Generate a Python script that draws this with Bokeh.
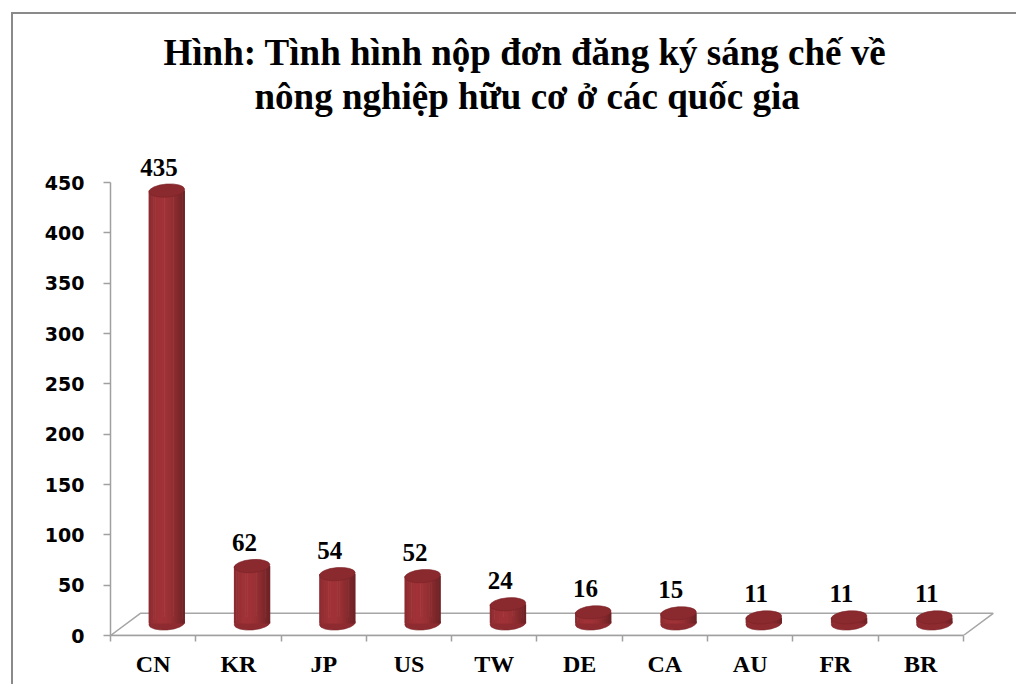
import numpy as np
from bokeh.plotting import figure
from bokeh.models import ColumnDataSource, FixedTicker, Range1d, Title
from bokeh.core.properties import value
from bokeh.embed import file_html
from bokeh.resources import INLINE

# ---- data ----
countries = ["CN", "KR", "JP", "US", "TW", "DE", "CA", "AU", "FR", "BR"]
counts = [435, 62, 54, 52, 24, 16, 15, 11, 11, 11]
y_ticks = [0, 50, 100, 150, 200, 250, 300, 350, 400, 450]
title_lines = ["Hình: Tình hình nộp đơn đăng ký sáng chế về",
               "nông nghiệp hữu cơ ở các quốc gia"]

# ---- geometry / style constants ----
n = len(countries)
DEPTH_X = 0.35      # floor depth in category units
DEPTH_Y = 22.0      # floor depth in value units
BAR_SHIFT = 0.16    # bars stand at mid depth
BAR_W = 0.42
BASE = 12.0
TOP_EXTRA = 7.0
ELL_H = 13.0
ELL_ANGLE = 0.08
BASE_RGB = np.array([158, 50, 54])

p = figure(width=1005, height=672, output_backend="svg", toolbar_location=None,
           x_range=Range1d(0, 10.4), y_range=Range1d(0, 513.6),
           min_border_left=97, min_border_right=21, min_border_top=104,
           min_border_bottom=51)
p.styles = {"margin-left": "11px", "margin-top": "12px",
            "border-left": "2px solid #8a8a8a", "border-top": "2px solid #8a8a8a"}
p.background_fill_color = "white"
p.border_fill_color = "white"
p.outline_line_color = None
p.grid.visible = False

# title: two centred lines (second line nearest the plot)
def style_title(t, off, standoff):
    t.align = "left"
    t.offset = off
    t.standoff = standoff
    t.text_font = "Liberation Serif"
    t.text_font_size = "37px"
    t.text_font_style = "bold"
    t.text_color = "black"

p.title.text = title_lines[0]
style_title(p.title, 53, 0)
t2 = Title(text=title_lines[1])
style_title(t2, 144, 3)
p.add_layout(t2, "above")

# floor (drawn first so that bars sit on it)
fx = [0, n, n + DEPTH_X, DEPTH_X]
fy = [0, 0, DEPTH_Y, DEPTH_Y]
p.patch(fx, fy, fill_color="white", line_color="#a6a6a6", line_width=1.5)

# cylinders
xs = np.arange(n) + 0.5 + BAR_SHIFT
vals = np.array(counts, dtype=float)
tops = vals + TOP_EXTRA

# bottom ellipse
p.ellipse(x=xs, y=[BASE] * n, width=BAR_W, height=ELL_H, angle=ELL_ANGLE,
          width_units="data", height_units="data",
          fill_color="#8e2b30", line_color="#7a2428", line_width=0.6)

# body as shaded strips
NS = 16
sx, sb, st, sc = [], [], [], []
for k in range(NS):
    t = -1 + (2 * k + 1) / NS
    inten = 0.78 + 0.24 * np.cos((t + 0.25) * np.pi / 2)
    rgb = np.clip(BASE_RGB * inten, 0, 255).astype(int)
    col = "#%02x%02x%02x" % tuple(rgb)
    for i in range(n):
        sx.append(xs[i] + t * BAR_W / 2)
        sb.append(BASE)
        st.append(tops[i])
        sc.append(col)
strips = ColumnDataSource(dict(x=sx, bottom=sb, top=st, color=sc))
p.vbar(x="x", bottom="bottom", top="top", width=BAR_W / NS * 1.25,
       fill_color="color", line_color=None, source=strips)

# top ellipse
p.ellipse(x=xs, y=tops, width=BAR_W, height=ELL_H, angle=ELL_ANGLE,
          width_units="data", height_units="data",
          fill_color="#8a292e", line_color="#7a2428", line_width=0.6)

# data labels
lab = ColumnDataSource(dict(x=np.arange(n) + 0.5 + 0.07, y=tops,
                            t=[str(v) for v in counts]))
p.text(x="x", y="y", text="t", source=lab, text_align="center",
       text_baseline="bottom", y_offset=-15,
       text_font=value("Liberation Serif"), text_font_style="bold",
       text_font_size="25px", text_color="black")

# y axis
ya = p.yaxis[0]
ya.ticker = FixedTicker(ticks=y_ticks)
ya.bounds = (0, 450)
ya.axis_line_color = "#a0a0a0"
ya.axis_line_width = 1.5
ya.major_tick_line_color = "#a0a0a0"
ya.major_tick_line_width = 1.5
ya.major_tick_in = 0
ya.major_tick_out = 7
ya.minor_tick_line_color = None
ya.major_label_standoff = 19
ya.major_label_text_font = "DejaVu Sans"
ya.major_label_text_font_style = "bold"
ya.major_label_text_font_size = "19px"
ya.major_label_text_color = "black"

# x axis: labels at category centres, ticks at category boundaries
xa = p.xaxis[0]
centers = [i + 0.5 for i in range(n)]
xa.ticker = FixedTicker(ticks=centers, minor_ticks=list(range(n + 1)))
xa.major_label_overrides = {c: lbl for c, lbl in zip(centers, countries)}
xa.bounds = (0, n)
xa.axis_line_color = "#a0a0a0"
xa.axis_line_width = 1.5
xa.major_tick_line_alpha = 0
xa.major_tick_in = 0
xa.major_tick_out = 6
xa.minor_tick_line_color = "#a0a0a0"
xa.minor_tick_line_width = 1.5
xa.minor_tick_in = 0
xa.minor_tick_out = 6
xa.major_label_standoff = 9
xa.major_label_text_font = "Liberation Serif"
xa.major_label_text_font_style = "bold"
xa.major_label_text_font_size = "24px"
xa.major_label_text_color = "black"

open("out.html", "w").write(file_html(p, INLINE))
